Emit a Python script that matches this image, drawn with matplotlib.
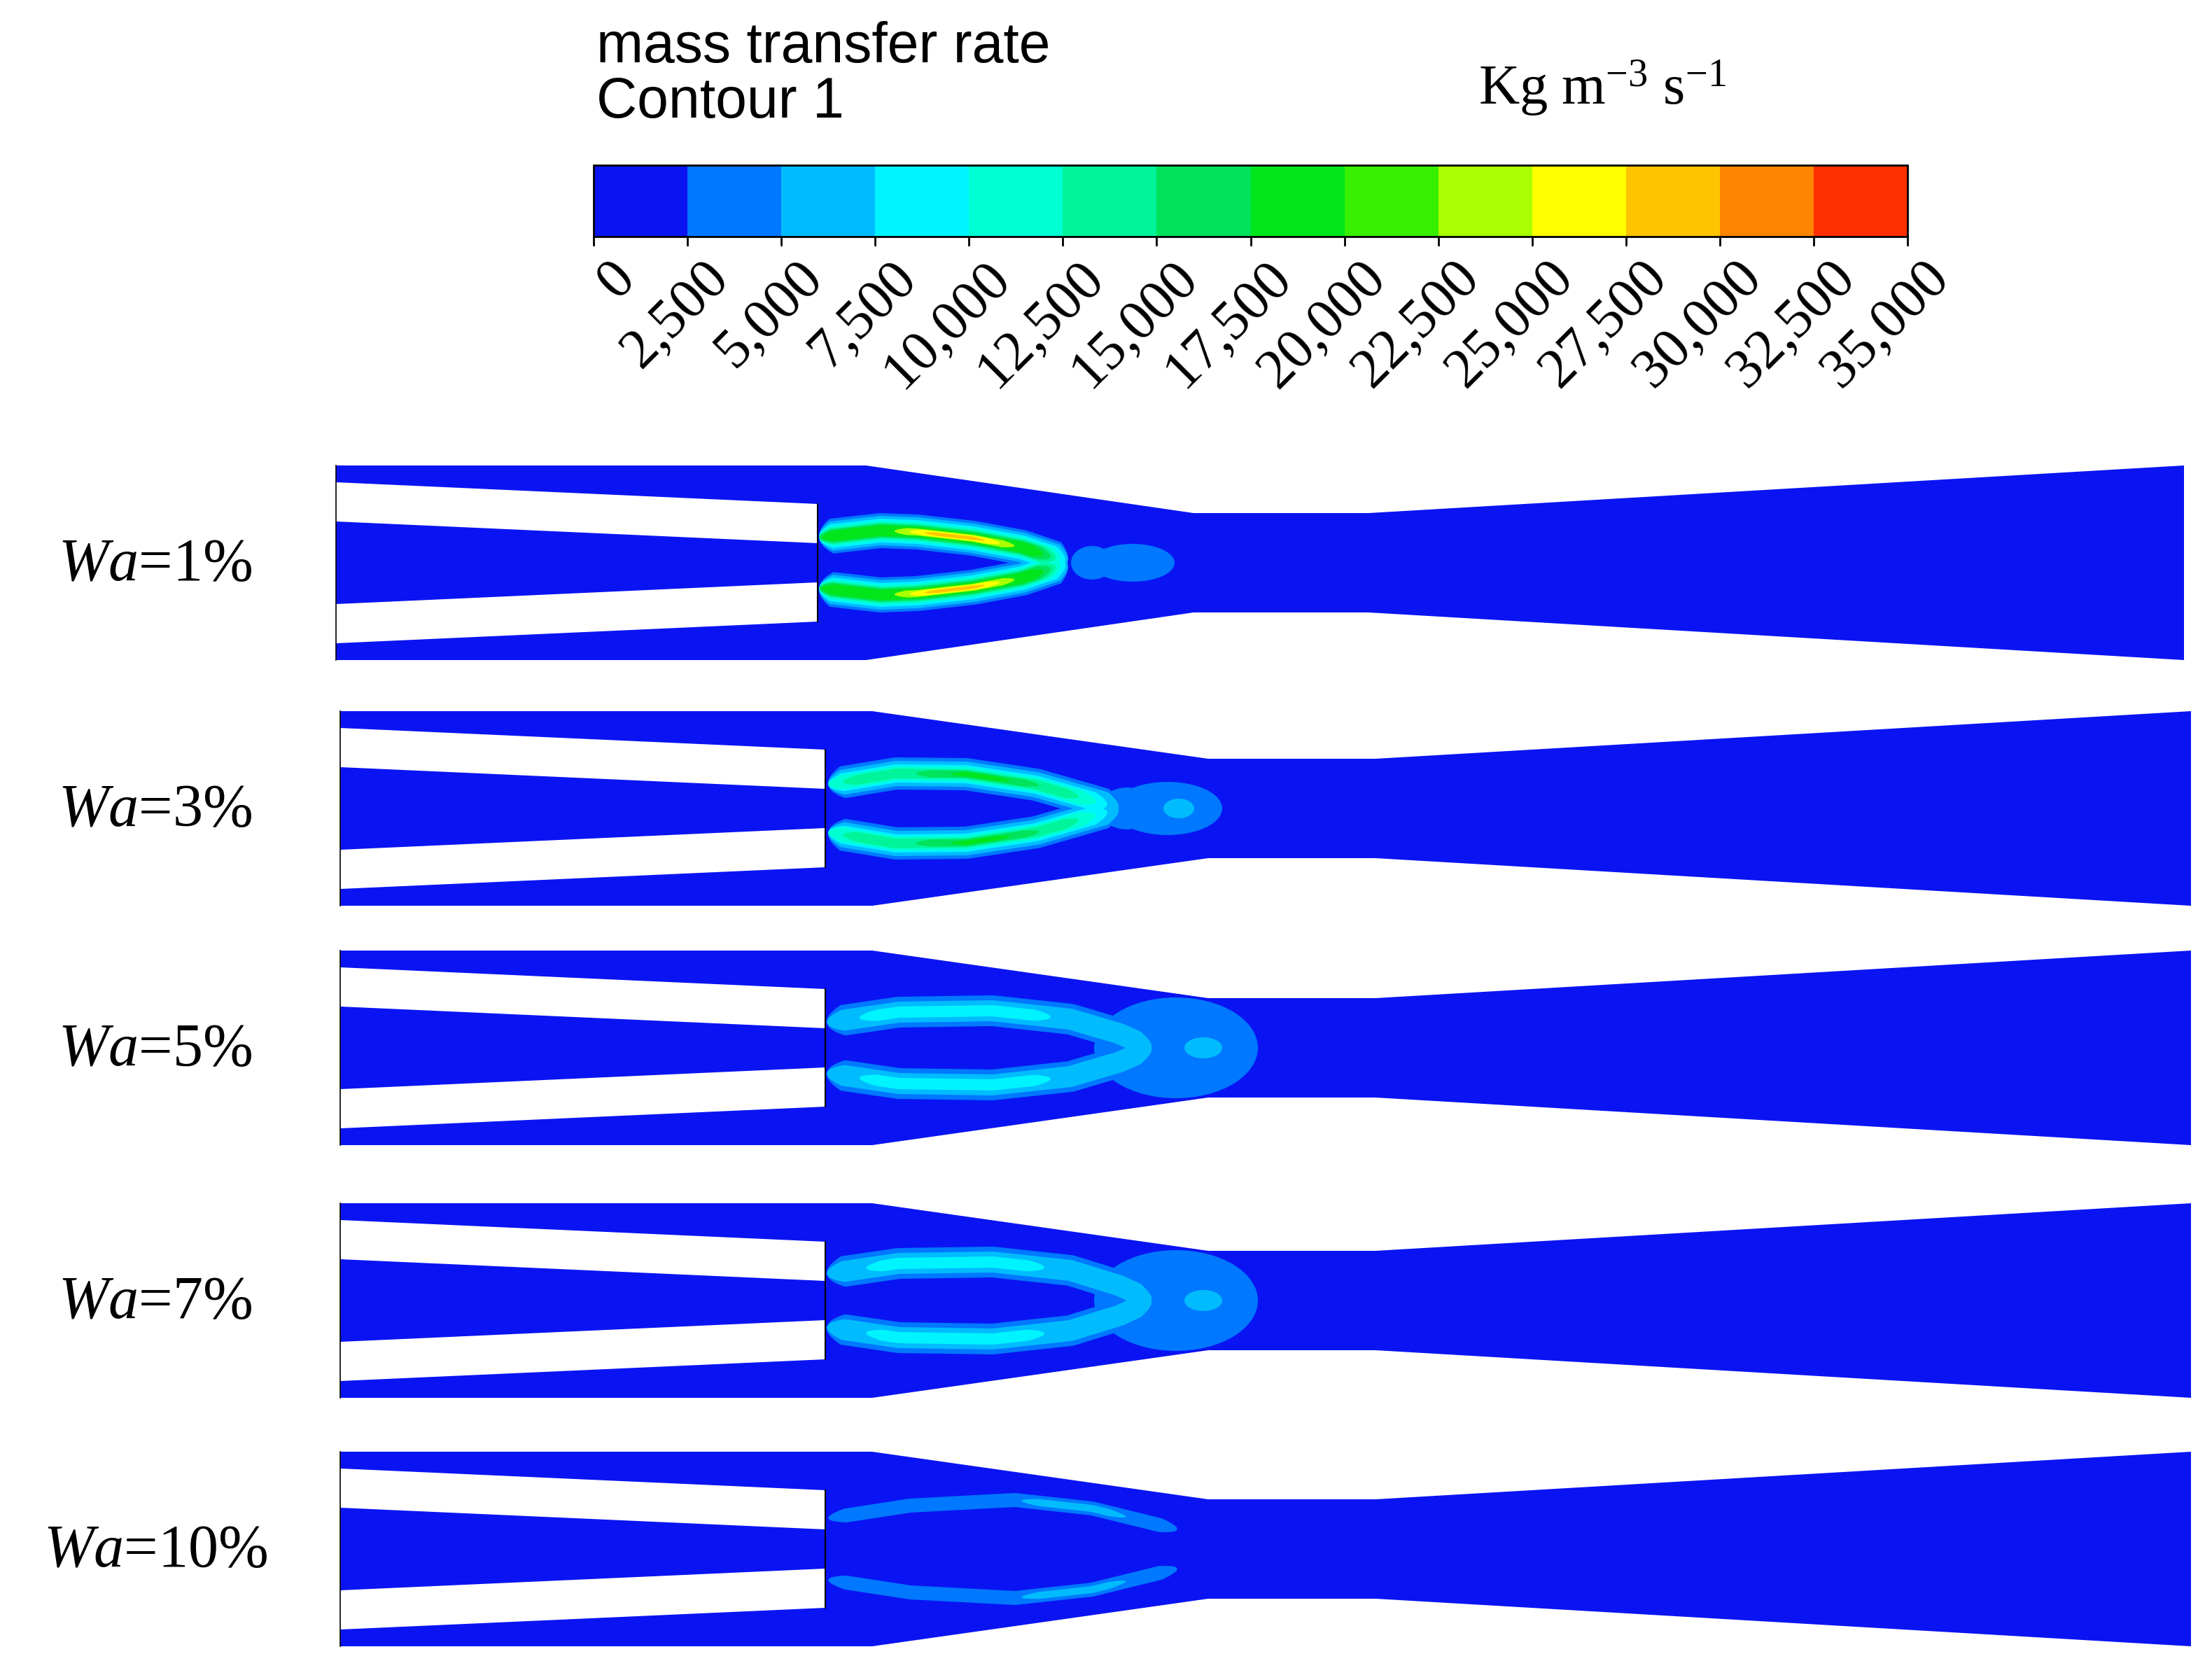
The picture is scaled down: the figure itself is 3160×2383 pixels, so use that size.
import numpy as np
import matplotlib.pyplot as plt
from matplotlib.patches import Polygon, Rectangle, Ellipse

plt.rcParams["mathtext.fontset"] = "custom"
plt.rcParams["mathtext.rm"] = "Liberation Serif"
plt.rcParams["mathtext.it"] = "Liberation Serif:italic"

# ── Data ──────────────────────────────────────────────────────────────────────
levels = np.arange(0, 37500, 2500)
tick_labels = [f"{v:,}" for v in levels]
level_colors = ["#0a14f2", "#0078ff", "#00bcff", "#00f4ff", "#00ffd2", "#00f59a",
                "#00e35a", "#00e61a", "#37f000", "#aaff00", "#ffff00", "#ffc400",
                "#ff8400", "#ff3000"]

case_labels = ["1%", "3%", "5%", "7%", "10%"]
centers = [804, 1155, 1497, 1858, 2213]
x_left = [480, 486, 486, 486, 486]
x_nozzle = [1168, 1179, 1179, 1179, 1179]
x_conv = [1237, 1246, 1246, 1246, 1246]
x_throat0 = [1705, 1726, 1726, 1726, 1726]
x_throat1 = [1955, 1965, 1965, 1965, 1965]
x_exit = [3120, 3130, 3130, 3130, 3130]
half_outer, half_throat = 139, 71
wall_left = (-115, -59)
wall_right = (-84, -28)

# upper arm centreline (x, y-offset from axis); lower arm is the mirror
arm_x = [
    [1170, 1258, 1310, 1390, 1460, 1525],
    [1183, 1280, 1380, 1480, 1560, 1598],
    [1181, 1284, 1418, 1529, 1600, 1645],
    [1181, 1284, 1418, 1529, 1600, 1645],
    [1183, 1300, 1450, 1560, 1682],
]
arm_y = [
    [-36, -46, -44, -35, -22, 0],
    [-34, -50, -49, -34, -11, 0],
    [-36, -51, -53, -41, -20, 0],
    [-38, -53, -55, -43, -21, 0],
    [-44, -62, -70, -58, -28],
]
# bands along the arm: (level, t0, t1, half width)
arm_bands = [
    [(1, 0, 1, 25), (2, 0, 1, 21), (3, 0, 0.99, 17), (4, 0, 0.97, 14), (5, 0, 0.95, 11.5),
     (6, 0, 0.93, 9.5), (7, 0.01, 0.9, 7.5), (9, 0.3, 0.78, 5), (10, 0.36, 0.72, 3.8), (11, 0.42, 0.66, 2.3)],
    [(1, 0, 1, 23), (2, 0, 1, 18), (3, 0, 0.96, 13), (4, 0, 0.92, 10), (5, 0.05, 0.86, 7),
     (6, 0.3, 0.72, 5), (7, 0.42, 0.62, 3.2)],
    [(1, 0, 1, 22), (2, 0, 1, 15), (3, 0.1, 0.68, 8)],
    [(1, 0, 1, 22), (2, 0, 1, 15), (3, 0.12, 0.66, 8)],
    [(1, 0, 1, 10), (2, 0.55, 0.85, 5)],
]
# blobs downstream of the arms: (level, cx, a, b)
blobs = [
    [(1, 1560, 30, 24), (1, 1618, 60, 27)],
    [(1, 1610, 40, 30), (1, 1668, 78, 38), (2, 1684, 22, 14)],
    [(1, 1680, 117, 72), (2, 1719, 27, 15)],
    [(1, 1680, 117, 72), (2, 1719, 27, 15)],
    [],
]

# ── Figure ────────────────────────────────────────────────────────────────────
fig = plt.figure(figsize=(31.6, 23.83), dpi=100)
ax = fig.add_axes([0, 0, 1, 1])
ax.set_xlim(0, 3160)
ax.set_ylim(2383, 0)
ax.axis("off")


def arm_polygon(xs, ys, yc, t0, t1, hw, sign):
    s = np.linspace(0, 1, 300)
    seg = np.r_[0, np.cumsum(np.hypot(np.diff(xs), np.diff(ys)))]
    seg = seg / seg[-1]
    px = np.interp(s, seg, xs)
    py = np.interp(s, seg, ys)
    m = (s >= t0) & (s <= t1)
    px, py, ss = px[m], py[m], s[m]
    dx, dy = np.gradient(px), np.gradient(py)
    n = np.hypot(dx, dy)
    nx, ny = -dy / n, dx / n
    edge = np.minimum(ss - t0, t1 - ss) / 0.05
    w = hw * np.sqrt(np.clip(edge, 0, 1))
    top = np.c_[px + nx * w, yc + sign * (py + ny * w)]
    bot = np.c_[px - nx * w, yc + sign * (py - ny * w)]
    return np.vstack([top, bot[::-1]])


for i in range(5):
    yc = centers[i]
    cx = [x_left[i], x_conv[i], x_throat0[i], x_throat1[i], x_exit[i]]
    hh = [half_outer, half_outer, half_throat, half_throat, half_outer]
    outline = [(x, yc - h) for x, h in zip(cx, hh)] + [(x, yc + h) for x, h in zip(cx[::-1], hh[::-1])]
    chan = Polygon(outline, closed=True, fc=level_colors[0], ec="none", zorder=1)
    ax.add_patch(chan)

    for lev in range(1, len(level_colors)):
        for (l, bx, a, b) in blobs[i]:
            if l != lev:
                continue
            e = Ellipse((bx, yc), 2 * a, 2 * b, fc=level_colors[lev], ec="none", zorder=2 + lev)
            ax.add_patch(e)
            e.set_clip_path(chan)
        for (l, t0, t1, hw) in arm_bands[i]:
            if l != lev:
                continue
            for sign in (1, -1):
                p = Polygon(arm_polygon(arm_x[i], arm_y[i], yc, t0, t1, hw, sign),
                            closed=True, fc=level_colors[lev], ec="none", zorder=2 + lev)
                ax.add_patch(p)
                p.set_clip_path(chan)

    # nozzle walls (white)
    for sign in (1, -1):
        wall = [(x_left[i], yc + sign * wall_left[0]), (x_nozzle[i], yc + sign * wall_right[0]),
                (x_nozzle[i], yc + sign * wall_right[1]), (x_left[i], yc + sign * wall_left[1])]
        ax.add_patch(Polygon(wall, closed=True, fc="white", ec="none", zorder=20))
    ax.plot([x_nozzle[i]] * 2, [yc + wall_right[0], yc - wall_right[0]], color="black", lw=1.5, zorder=21)
    ax.plot([x_left[i]] * 2, [yc - half_outer, yc + half_outer], color="black", lw=1.2, zorder=21)

    ax.text(222, yc + 4, "$Wa$=" + case_labels[i], fontsize=62, family="Liberation Serif",
            ha="center", va="center")

# ── Colour bar ────────────────────────────────────────────────────────────────
cb_x0, cb_x1, cb_y0, cb_y1 = 848, 2725, 236, 338
cw = (cb_x1 - cb_x0) / (len(levels) - 1)
for k, c in enumerate(level_colors):
    ax.add_patch(Rectangle((cb_x0 + k * cw, cb_y0), cw, cb_y1 - cb_y0, fc=c, ec="none", zorder=5))
ax.add_patch(Rectangle((cb_x0, cb_y0), cb_x1 - cb_x0, cb_y1 - cb_y0, fc="none", ec="black", lw=2, zorder=6))
for k, lab in enumerate(tick_labels):
    x = cb_x0 + k * cw
    ax.plot([x, x], [cb_y1, cb_y1 + 12], color="black", lw=2)
    ax.text(x + 22, cb_y1 + 22, lab, rotation=45, rotation_mode="anchor", ha="right", va="top",
            fontsize=58, family="Liberation Serif")

ax.text(852, 89, "mass transfer rate", fontsize=58, family="Liberation Sans", va="baseline")
ax.text(852, 168, "Contour 1", fontsize=58, family="Liberation Sans", va="baseline")
ax.text(2112, 150, "Kg m$^{-3}$ s$^{-1}$", fontsize=58, family="Liberation Serif", va="baseline")

fig.savefig("out.png", dpi=100)
